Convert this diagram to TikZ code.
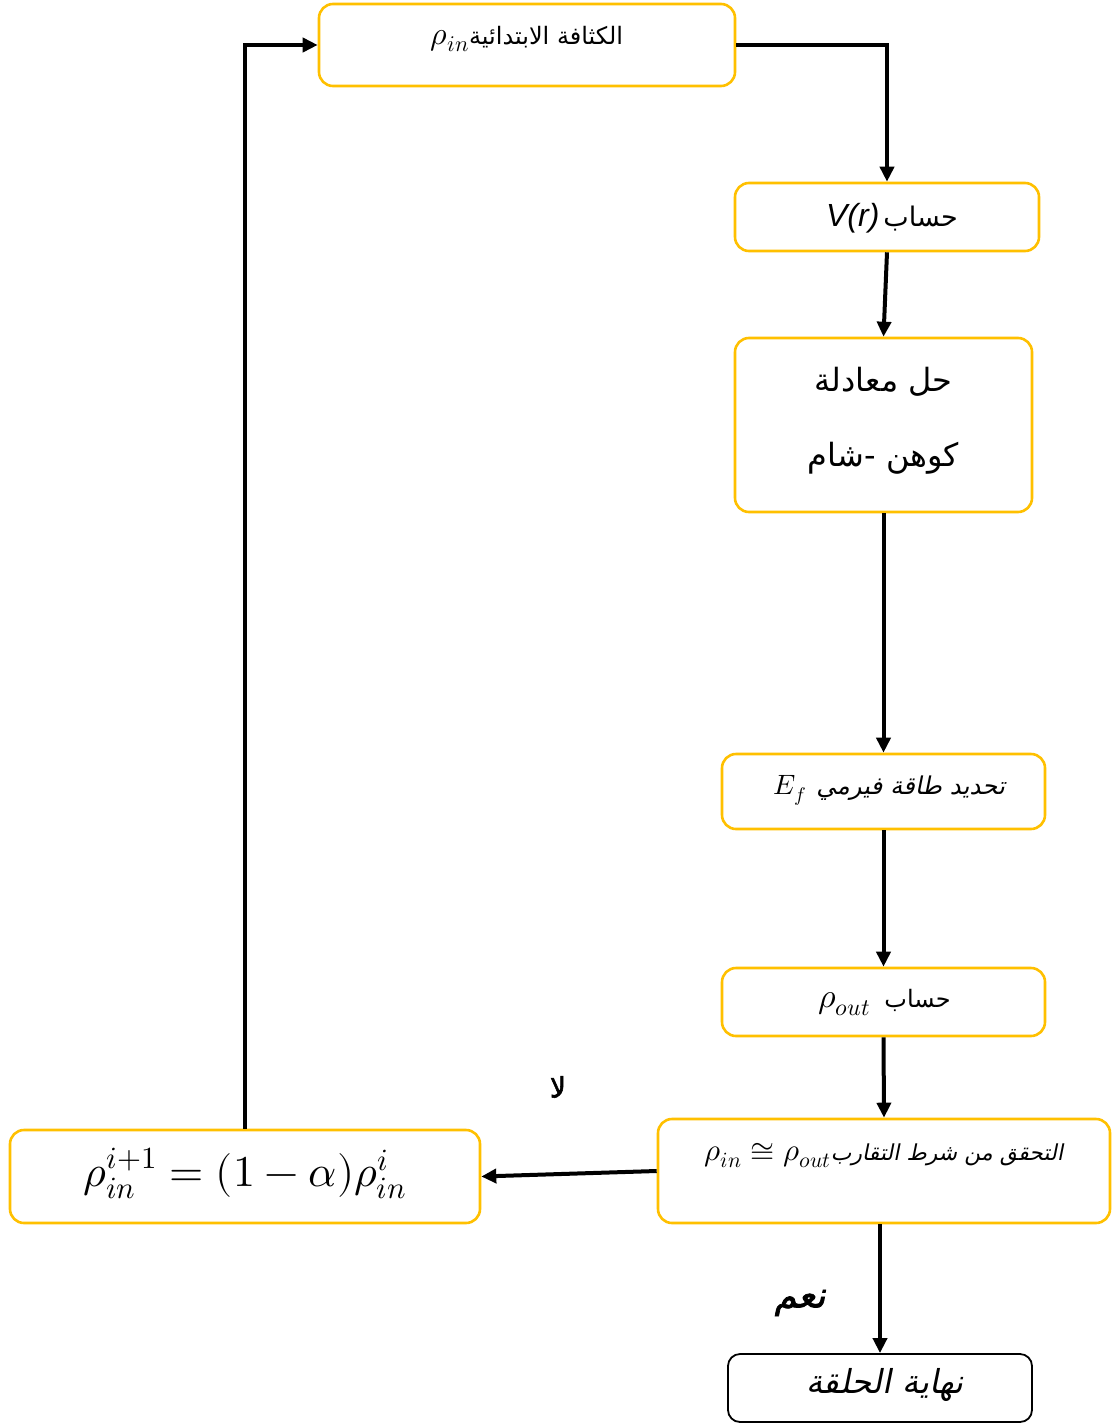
\documentclass[tikz,border=0pt]{standalone}
\usepackage{fontspec}
\usepackage{unicode-math}
\setmathfont{Latin Modern Math}
\usetikzlibrary{arrows.meta}
\TeXXeTstate=1
\newfontfamily\ar[Script=Arabic]{DejaVu Sans}
\newfontfamily\arit[Script=Arabic,FakeSlant=0.2]{DejaVu Sans}
\newfontfamily\arbf[Script=Arabic,FakeBold=2]{DejaVu Sans}
\newfontfamily\arbfit[Script=Arabic,FakeBold=2,FakeSlant=0.2]{DejaVu Sans}
\newfontfamily\lsans{Liberation Sans}
\definecolor{gold}{HTML}{FFC000}
\newcommand\tline[2]{\smash{\raisebox{#1}{\makebox[0pt]{#2}}}}
\newcommand\fs[1]{\fontsize{#1}{#1}\selectfont}
\begin{document}
\begin{tikzpicture}[x=1pt,y=-1pt,
  box/.style={draw=gold,line width=2.6pt,rounded corners=14pt,fill=white,inner sep=0pt},
  endbox/.style={draw=black,line width=1.8pt,rounded corners=12pt,fill=white,inner sep=0pt},
  arr/.style={line width=4pt,-{Triangle[length=15pt,width=14pt]}},
  lbl/.style={inner sep=0pt}]
\useasboundingbox (0,0) rectangle (1114,1424);
\fill[white] (0,0) rectangle (1114,1424);

\node[box,minimum width=416pt,minimum height=82pt] (init) at (527,45)
  {\tline{1pt}{{\fs{32}$\rho_{in}$}{\fs{24}\ar\beginR الكثافة الابتدائية\endR}}};
\node[box,minimum width=304pt,minimum height=68pt] (vr) at (887,217)
  {\tline{-9pt}{\hspace{10pt}{\fs{32}\lsans\itshape V(r)}\hspace{4pt}{\fs{27}\ar\beginR حساب\endR}}};
\node[box,minimum width=297pt,minimum height=174pt] (ks) at (883.5,425)
  {\tline{34pt}{\fs{32}\ar\beginR حل معادلة\endR}\tline{-41pt}{\fs{32}\ar\beginR كوهن -شام\endR}};
\node[box,minimum width=323pt,minimum height=75pt] (ef) at (883.5,791.5)
  {\tline{-3pt}{\hspace{12pt}{\fs{28}$E_f$}\hspace{10pt}{\fs{24.5}\arit\beginR تحديد طاقة فيرمي\endR}}};
\node[box,minimum width=323pt,minimum height=68pt] (rout) at (883.5,1002)
  {\tline{-5pt}{\hspace{2pt}{\fs{34}$\rho_{out}$}\hspace{14pt}{\fs{24}\ar\beginR حساب\endR}}};
\node[box,minimum width=452pt,minimum height=104pt] (check) at (884,1171)
  {\tline{11pt}{{\fs{31}$\rho_{in}\cong\rho_{out}$}{\fs{22}\arit\beginR التحقق من شرط التقارب\endR}}};
\node[box,minimum width=470pt,minimum height=93pt] (upd) at (245,1176.5)
  {\tline{-10pt}{\fs{44}$\rho_{in}^{i+1}=(1-\alpha)\rho_{in}^{i}$}};
\node[endbox,minimum width=304pt,minimum height=68pt] (fin) at (880,1388)
  {\tline{-5pt}{\fs{33}\hspace{10pt}\arit\beginR نهاية الحلقة\endR}};

\node[lbl] (no) at (558,1087) {\fs{28}\arbf\beginR لا\endR};
\node[lbl] (yes) at (800,1303) {\fs{36}\arbfit\beginR نعم\endR};

\draw[arr] (init.east) -| (vr.north);
\draw[arr] (vr.south) -- (ks.north);
\draw[arr] (ks.south) -- (ef.north);
\draw[arr] (ef.south) -- (rout.north);
\draw[arr] (rout.south) -- (check.north);
\draw[arr] (check.west) -- (upd.east);
\draw[arr] (upd.north) |- (init.west);
\draw[arr] (check.south -| fin.north) -- (fin.north);
\end{tikzpicture}
\end{document}
